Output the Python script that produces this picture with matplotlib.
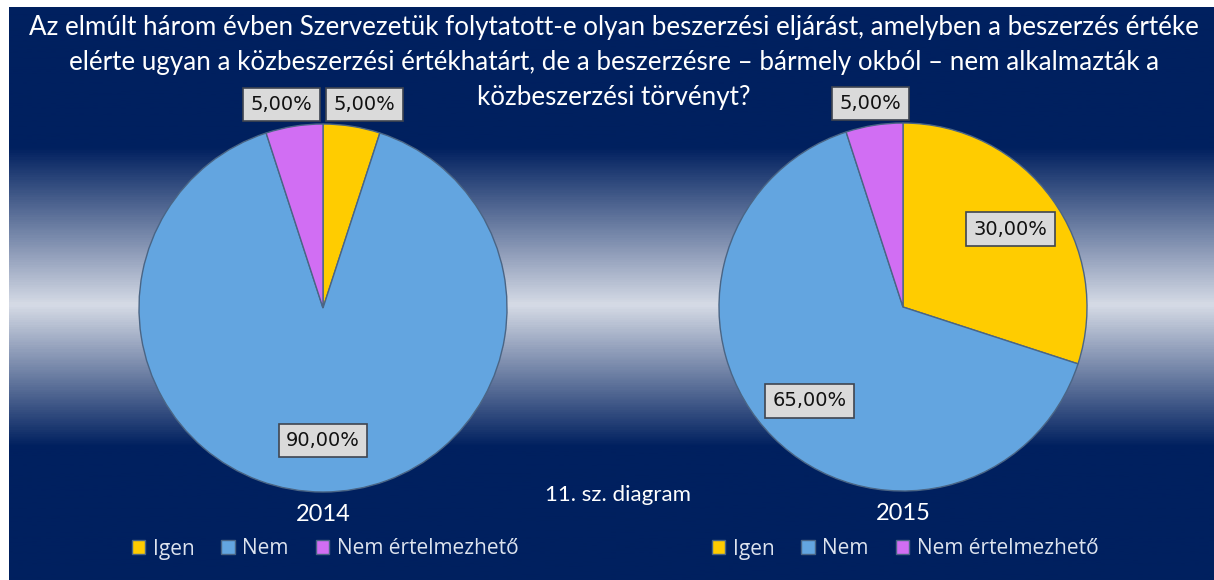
import matplotlib
matplotlib.use("Agg")
import matplotlib.pyplot as plt
import numpy as np
from matplotlib.colors import LinearSegmentedColormap

W, H = 1214, 580

# data
categories = ["Igen", "Nem", "Nem értelmezhető"]
years = ["2014", "2015"]
values_2014 = [5.0, 90.0, 5.0]
values_2015 = [30.0, 65.0, 5.0]
title_lines = [
  "Az elmúlt három évben Szervezetük folytatott-e olyan beszerzési eljárást, amelyben a beszerzés értéke",
  "elérte ugyan a közbeszerzési értékhatárt, de a beszerzésre – bármely okból – nem alkalmazták a",
  "közbeszerzési törvényt?",
]
note = "11. sz. diagram"

colors = ["#FFCC00", "#63A5E0", "#D16EF3"]
navy = "#00205F"

fig = plt.figure(figsize=(W / 100, H / 100), dpi=100, facecolor="white")

# background with horizontal light band
bg = fig.add_axes([9 / W, 0, 1 - 9 / W, 1 - 7 / H])
bg.set_axis_off()
stops = [(0.0, navy), (140 / 573, navy), (298 / 573, "#D6DBE6"), (440 / 573, navy), (1.0, navy)]
cmap = LinearSegmentedColormap.from_list("band", stops)
grad = np.linspace(0, 1, 600).reshape(-1, 1)
bg.imshow(grad, aspect="auto", cmap=cmap, extent=[0, 1, 1, 0])
bg.set_xlim(0, 1)
bg.set_ylim(1, 0)


def px_box(cx, cy, half):
  return [(cx - half) / W, 1 - (cy + half) / H, 2 * half / W, 2 * half / H]


R = 184
lim = 1.4
box = dict(boxstyle="square,pad=0.38", fc="#DADADA", ec="#3F4550", lw=1.2)
min_gap = 0.45   # min centre distance of neighbouring outside labels

for (cx, cy), year, vals in [((323, 308), years[0], values_2014),
                             ((903, 307), years[1], values_2015)]:
  ax = fig.add_axes(px_box(cx, cy, R * lim))
  ax.set_axis_off()
  wedges, _ = ax.pie(vals, colors=colors, startangle=90, counterclock=False,
                     radius=1, wedgeprops=dict(edgecolor="#4A6585", linewidth=1.0))
  ax.set_xlim(-lim, lim)
  ax.set_ylim(-lim, lim)
  ax.set_aspect("equal")

  pos = []
  for w, v in zip(wedges, vals):
    ang = np.deg2rad((w.theta1 + w.theta2) / 2)
    d = 1.12 if v < 10 else 0.72
    pos.append([d * np.cos(ang), d * np.sin(ang), v < 10])
  # push colliding outside labels apart
  outer = sorted([p for p in pos if p[2]], key=lambda p: p[0])
  for a, b in zip(outer, outer[1:]):
    gap = b[0] - a[0]
    if gap < min_gap:
      a[0] -= (min_gap - gap) / 2
      b[0] += (min_gap - gap) / 2

  for (x, y, _), v in zip(pos, vals):
    ax.text(x, y, f"{v:.2f}%".replace(".", ","),
            ha="center", va="center", fontsize=14, color="#111111",
            family="DejaVu Sans", bbox=box, clip_on=False)
  ax.text(0, -1.12, year, ha="center", va="center", fontsize=17,
          color="white", family="Lato", clip_on=False)

  leg = fig.legend(wedges, categories, loc="center", ncol=3, frameon=False,
                   bbox_to_anchor=(cx / W + 2 / W, 1 - 549 / H),
                   handlelength=0.65, handleheight=0.65, handletextpad=0.35,
                   columnspacing=1.3, prop={"family": "Open Sans", "size": 15})
  for t in leg.get_texts():
    t.set_color("#DDE3EE")

for i, line in enumerate(title_lines):
  fig.text(614 / W, 1 - (28 + 34.5 * i) / H, line, ha="center", va="center",
           fontsize=18.7, color="white", family="Lato")
fig.text(618 / W, 1 - 495 / H, note, ha="center", va="center", fontsize=16,
         color="white", family="Lato")

fig.savefig("out.png", dpi=100, facecolor="white")
